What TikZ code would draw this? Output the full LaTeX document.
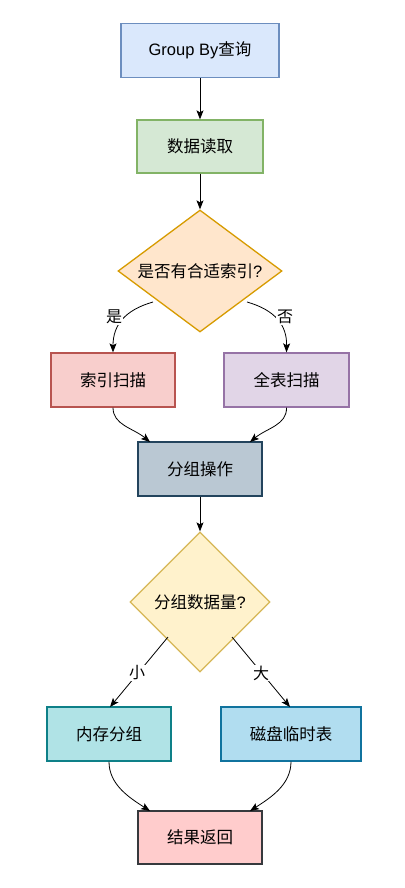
\documentclass[tikz,border=0pt]{standalone}
\usepackage{fontspec}
\setmainfont{Noto Sans CJK SC}
\newfontfamily\lat{Liberation Sans}
\usetikzlibrary{shapes.geometric,arrows.meta}
\definecolor{qF}{HTML}{DAE8FC}\definecolor{qS}{HTML}{6C8EBF}
\definecolor{rF}{HTML}{D5E8D4}\definecolor{rS}{HTML}{82B366}
\definecolor{aF}{HTML}{FFE6CC}\definecolor{aS}{HTML}{D79B00}
\definecolor{iF}{HTML}{F8CECC}\definecolor{iS}{HTML}{B85450}
\definecolor{fF}{HTML}{E1D5E7}\definecolor{fS}{HTML}{9673A6}
\definecolor{gF}{HTML}{BAC8D3}\definecolor{gS}{HTML}{23445D}
\definecolor{bF}{HTML}{FFF2CC}\definecolor{bS}{HTML}{D6B656}
\definecolor{mF}{HTML}{B0E3E6}\definecolor{mS}{HTML}{0E8088}
\definecolor{dF}{HTML}{B1DDF0}\definecolor{dS}{HTML}{10739E}
\definecolor{xF}{HTML}{FFCCCC}\definecolor{xS}{HTML}{36393D}
\tikzset{
  box/.style={draw=#1S,fill=#1F,line width=1.3pt,rectangle,inner sep=0pt,
    font=\fontsize{16.5}{19}\selectfont},
  dia/.style={draw=#1S,fill=#1F,line width=1.3pt,diamond,inner sep=0pt,
    font=\fontsize{16.5}{19}\selectfont},
  conn/.style={line width=0.8pt,-{Stealth[length=9pt,width=7pt,inset=2pt]}},
  lbl/.style={fill=white,inner sep=1pt,font=\fontsize{16}{19}\selectfont},
}
\begin{document}
\begin{tikzpicture}[x=1pt,y=-1pt]
\useasboundingbox (0,0) rectangle (404,888);
\fill[white] (0,0) rectangle (404,888);
\node[box=q,minimum width=158pt,minimum height=54pt] (q) at (200,50.5) {{\lat Group By}查询};
\node[box=r,minimum width=126pt,minimum height=53pt] (read) at (200,146.5) {数据读取};
\node[dia=a,minimum width=164pt,minimum height=122pt,aspect=1.344] (d1) at (200,271) {是否有合适索引{\lat ?}};
\node[box=i,minimum width=124pt,minimum height=54pt] (idx) at (113,380) {索引扫描};
\node[box=f,minimum width=125pt,minimum height=54pt] (full) at (286.5,380) {全表扫描};
\node[box=g,minimum width=124pt,minimum height=54pt] (grp) at (200,469) {分组操作};
\node[dia=b,minimum width=140pt,minimum height=140pt,aspect=1] (d2) at (200,602) {分组数据量{\lat ?}};
\node[box=m,minimum width=124pt,minimum height=54pt] (mem) at (109,734) {内存分组};
\node[box=d,minimum width=140pt,minimum height=54pt] (disk) at (291,734) {磁盘临时表};
\node[box=x,minimum width=124pt,minimum height=53pt] (res) at (200,837.5) {结果返回};
\coordinate (d1l) at (153,302);
\coordinate (d1r) at (247,302);
\coordinate (d2l) at (168,637);
\coordinate (d2r) at (232,637);
\draw[conn] (q.south) -- (read.north);
\draw[conn] (read.south) -- (d1.north);
\draw[conn] (d1l) .. controls (125,310) and (113,325) .. (idx.north);
\draw[conn] (d1r) .. controls (275,310) and (287,325) .. (full.north);
\node[lbl] (yes) at (114,317) {是};
\node[lbl] (no) at (285,317) {否};
\draw[conn] (idx.south) .. controls (113,425) and (133,428) .. (150,442);
\draw[conn] (full.south) .. controls (287,425) and (267,428) .. (250,442);
\draw[conn] (grp.south) -- (d2.north);
\draw[conn] (d2l) -- (110,707);
\draw[conn] (d2r) -- (290,707);
\node[lbl] (small) at (137,673) {小};
\node[lbl] (big) at (261,673) {大};
\draw[conn] (mem.south) .. controls (109,785) and (130,798) .. (150,811);
\draw[conn] (disk.south) .. controls (291,785) and (270,798) .. (250,811);
\end{tikzpicture}
\end{document}
